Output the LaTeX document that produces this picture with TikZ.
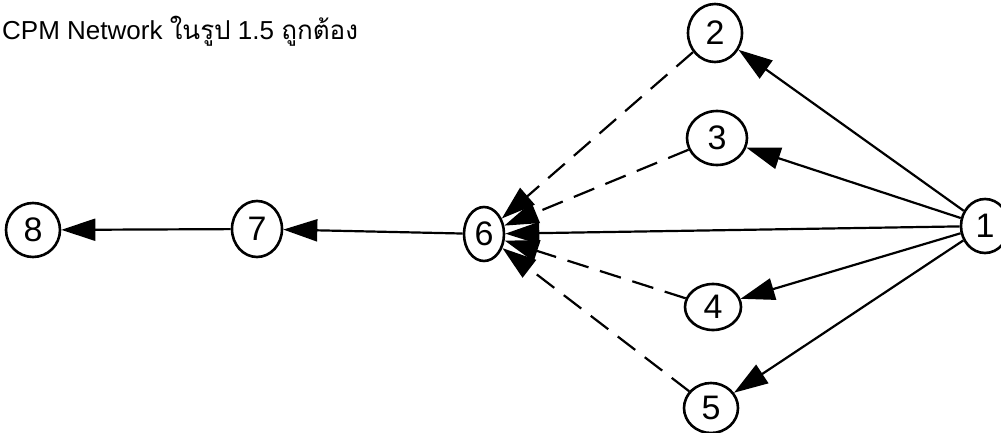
\documentclass[tikz,border=0pt]{standalone}
\usepackage{fontspec}
\setmainfont{Liberation Sans}
\newfontfamily\thaifont[Script=Thai]{Loma}
\usepackage{tikz}
\usetikzlibrary{arrows.meta,positioning,shapes.geometric}

\begin{document}
\begin{tikzpicture}[
  x=1pt,y=-1pt,
  evt/.style={ellipse,draw,line width=2.6pt,inner sep=0pt,font=\fontsize{34}{36}\selectfont},
  act/.style={-{Triangle[length=34pt,width=22pt]},line width=2.2pt},
  dmy/.style={act,dash pattern=on 22pt off 12pt},
  ttl/.style={anchor=base west,inner sep=0pt,font=\fontsize{26}{30}\selectfont}
]
\useasboundingbox (0,0) rectangle (1001,433);
\node[ttl] (title) at (2,40) {CPM Network {\thaifont ในรูป} 1.5 {\thaifont ถูกต้อง}};
\node[evt,minimum width=48pt,minimum height=54pt] (n1) at (985,226) {1};
\node[evt,minimum width=54pt,minimum height=58pt] (n2) at (715,33) {2};
\node[evt,minimum width=60pt,minimum height=54pt] (n3) at (717,138) {3};
\node[evt,minimum width=56pt,minimum height=46pt] (n4) at (713,307) {4};
\node[evt,minimum width=54pt,minimum height=50pt] (n5) at (711,408) {5};
\node[evt,minimum width=40pt,minimum height=54pt] (n6) at (484,234) {6};
\node[evt,minimum width=50pt,minimum height=56pt] (n7) at (257,229) {7};
\node[evt,minimum width=54pt,minimum height=54pt] (n8) at (33,230) {8};
% activities out of 1
\draw[act] (n1) -- (n2);
\draw[act] (n1) -- (n3);
\draw[act] (n1) -- (n6);
\draw[act] (n1) -- (n4);
\draw[act] (n1) -- (n5);
% dummies into 6
\draw[dmy] (n2) -- (n6);
\draw[dmy] (n3) -- (n6);
\draw[dmy] (n4) -- (n6);
\draw[dmy] (n5) -- (n6);
\draw[act] (n6) -- (n7);
\draw[act] (n7) -- (n8);
\end{tikzpicture}
\end{document}
